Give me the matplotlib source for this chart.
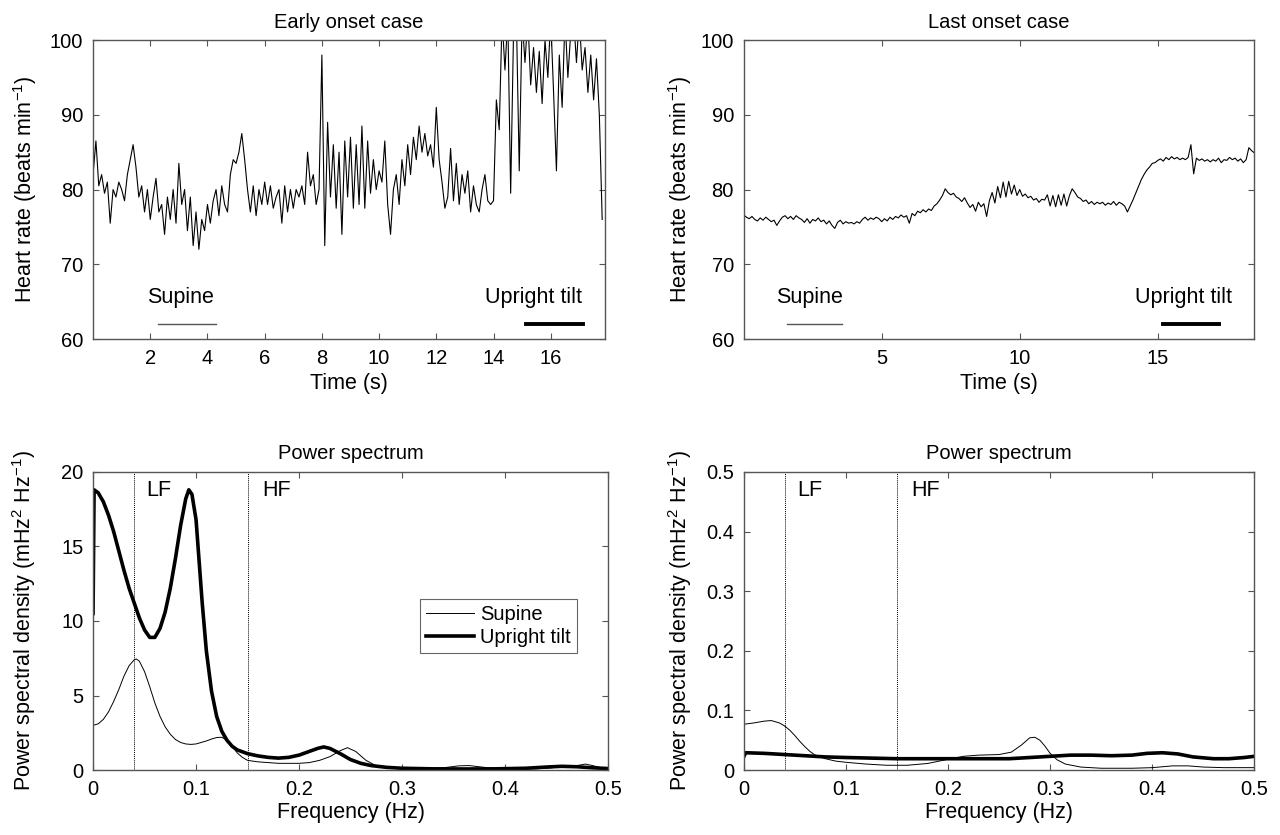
import numpy as np
import matplotlib
matplotlib.use('Agg')
import matplotlib.pyplot as plt
import matplotlib.transforms as mtransforms

plt.rcParams['font.family'] = ['Liberation Sans', 'DejaVu Sans']
plt.rcParams['mathtext.fontset'] = 'custom'
plt.rcParams['mathtext.rm'] = 'Liberation Sans'
plt.rcParams['mathtext.it'] = 'Liberation Sans:italic'
plt.rcParams['font.size'] = 14

# ---- heart rate, early onset case (0.1 s steps, 0 .. 17.8 s) ----
hr_early = [
    82, 86.5, 80.5, 82, 79.5, 81, 75.5, 80, 79, 81,
    80, 78.5, 82, 84, 86, 83, 79, 80.5, 77, 80,
    76, 79, 81.5, 77, 78, 74, 79, 76, 80, 75.5,
    83.5, 78, 80, 74.5, 79, 72.5, 77, 72, 76, 74.5,
    78, 75.5, 78.5, 80, 76.5, 80.5, 78, 77, 82, 84,
    83.5, 85, 87.5, 84, 80, 77, 80.5, 76.5, 80, 78,
    81, 78, 80.5, 77.5, 79, 80, 75.5, 80.5, 77, 80,
    77.5, 80, 79, 80.5, 78, 85, 80.5, 82, 78, 80,
    98, 72.5, 89, 79, 86, 77.5, 85, 74, 86.5, 79,
    87, 77.5, 86, 78, 88.5, 77.5, 86.5, 79.5, 84, 80,
    82.5, 81, 86.5, 78, 74, 80, 82, 78, 84, 80.5,
    86, 82, 87, 84, 88.5, 85, 87.5, 84.5, 86, 83,
    91, 84, 81, 77.5, 79, 85.5, 78.5, 83.5, 78, 82,
    79.5, 82.5, 77, 80.5, 78, 77, 80, 82, 78.5, 78,
    78.5, 92, 88, 103, 96, 103, 79.5, 101, 103, 82.5,
    103, 97, 103, 94, 99, 93, 98.5, 91.5, 100, 95,
    103, 93, 82.5, 98, 91, 103, 95, 101, 103, 97,
    103, 96, 99, 93, 98, 92, 97.5, 90, 76,
]
t_early = np.arange(len(hr_early)) * 0.1

# ---- heart rate, last onset case (0.1 s steps, 0 .. 18.5 s) ----
hr_last = [
    76.6, 76.3, 76.1, 76.4, 76.0, 75.8, 76.2, 75.9, 76.3, 76.0,
    75.7, 75.9, 75.2, 75.8, 76.3, 76.5, 76.1, 76.4, 76.0, 76.5,
    76.2, 76.0, 75.6, 76.1, 75.5, 76.0, 75.8, 76.2, 75.7, 75.9,
    75.4, 75.8, 75.2, 74.8, 75.6, 75.9, 75.4, 75.7, 75.5, 75.6,
    75.4, 75.7, 75.5, 76.0, 76.3, 75.9, 76.2, 76.0, 76.3, 76.1,
    75.7, 76.1, 75.8, 76.3, 76.0, 76.4, 76.2, 76.6, 76.3, 76.5,
    75.5, 76.8, 76.5, 77.1, 76.9, 77.3, 77.0, 77.4, 77.2, 77.8,
    78.1, 78.6, 79.2, 80.1, 79.6, 79.3, 79.5, 79.0, 78.8, 78.4,
    78.9, 78.2, 77.6, 78.0, 77.1, 78.3, 77.7, 78.1, 76.4, 78.5,
    79.6, 78.2, 80.4, 78.9, 81.0, 79.0, 81.1, 79.4, 80.6, 79.2,
    80.0, 79.1, 79.4, 78.9, 79.1, 78.6, 78.8, 78.3, 78.7, 78.6,
    79.3, 77.8, 79.2, 77.7, 79.3, 77.9, 79.4, 77.8, 79.2, 80.1,
    79.6, 79.0, 78.8, 78.4, 78.6, 78.1, 78.4, 78.0, 78.3, 78.1,
    78.3, 77.9, 78.2, 78.0, 78.4, 77.9, 78.3, 78.1, 77.8, 77.0,
    77.8, 78.6, 79.5, 80.4, 81.3, 82.0, 82.6, 83.0, 83.5, 83.6,
    83.9, 84.1, 83.8, 84.3, 84.0, 84.4, 84.1, 84.3, 84.0, 84.2,
    84.0, 84.3, 86.0, 82.1, 84.2, 83.9, 84.1, 83.8, 84.0, 83.7,
    84.0, 83.8, 84.2, 83.6, 84.0, 83.9, 84.3, 84.0, 84.2, 83.8,
    84.1, 83.6, 84.0, 85.6, 85.2, 84.9,
]
t_last = np.arange(len(hr_last)) * 0.1

# ---- power spectra, early onset case ----
f_early_sup = [0.000, 0.005, 0.010, 0.015, 0.020, 0.025, 0.030, 0.035, 0.040, 0.042,
               0.045, 0.050, 0.055, 0.060, 0.065, 0.070, 0.075, 0.080, 0.085, 0.090,
               0.095, 0.100, 0.105, 0.110, 0.115, 0.120, 0.125, 0.130, 0.135, 0.140,
               0.145, 0.150, 0.160, 0.180, 0.200, 0.210, 0.220, 0.230, 0.240, 0.247,
               0.255, 0.265, 0.275, 0.285, 0.300, 0.320, 0.340, 0.355, 0.365, 0.375,
               0.390, 0.410, 0.430, 0.445, 0.455, 0.465, 0.470, 0.478, 0.485, 0.495, 0.500]
p_early_sup = [3.0, 3.1, 3.4, 3.9, 4.6, 5.4, 6.3, 7.0, 7.4, 7.45,
               7.3, 6.6, 5.6, 4.5, 3.6, 2.9, 2.4, 2.05, 1.85, 1.75,
               1.72, 1.75, 1.85, 1.95, 2.08, 2.18, 2.2, 2.0, 1.6, 1.15,
               0.85, 0.65, 0.55, 0.45, 0.45, 0.5, 0.65, 0.9, 1.3, 1.5,
               1.25, 0.65, 0.28, 0.13, 0.08, 0.08, 0.15, 0.28, 0.3, 0.22,
               0.1, 0.05, 0.08, 0.15, 0.25, 0.22, 0.3, 0.4, 0.3, 0.12, 0.1]

f_early_up = [0.000, 0.001, 0.005, 0.010, 0.015, 0.020, 0.025, 0.030, 0.035, 0.040,
              0.045, 0.050, 0.055, 0.060, 0.065, 0.070, 0.075, 0.080, 0.085, 0.090,
              0.093, 0.096, 0.100, 0.103, 0.106, 0.110, 0.115, 0.120, 0.125, 0.130,
              0.135, 0.140, 0.150, 0.160, 0.170, 0.180, 0.190, 0.200, 0.210, 0.218,
              0.224, 0.230, 0.240, 0.250, 0.260, 0.270, 0.285, 0.300, 0.330, 0.360,
              0.390, 0.420, 0.440, 0.455, 0.470, 0.485, 0.500]
p_early_up = [10.5, 18.8, 18.6, 18.0, 17.1, 16.0, 14.7, 13.4, 12.2, 11.2,
              10.2, 9.4, 8.9, 8.9, 9.5, 10.6, 12.2, 14.2, 16.4, 18.2,
              18.8, 18.5, 16.8, 14.0, 11.2, 8.0, 5.3, 3.6, 2.6, 2.0,
              1.6, 1.35, 1.1, 0.95, 0.85, 0.8, 0.85, 1.0, 1.25, 1.45,
              1.55, 1.45, 1.1, 0.7, 0.45, 0.3, 0.18, 0.12, 0.08, 0.07,
              0.08, 0.12, 0.2, 0.25, 0.22, 0.15, 0.1]

# ---- power spectra, last onset case ----
f_last_sup = [0.000, 0.001, 0.010, 0.020, 0.027, 0.035, 0.040, 0.045, 0.050, 0.055,
              0.060, 0.065, 0.070, 0.080, 0.090, 0.100, 0.120, 0.140, 0.160, 0.180,
              0.200, 0.215, 0.230, 0.250, 0.262, 0.272, 0.280, 0.285, 0.290, 0.295,
              0.300, 0.307, 0.315, 0.330, 0.350, 0.380, 0.400, 0.420, 0.435, 0.450,
              0.470, 0.500]
p_last_sup = [0.065, 0.077, 0.079, 0.082, 0.083, 0.079, 0.074, 0.067, 0.058, 0.048,
              0.039, 0.031, 0.025, 0.019, 0.015, 0.013, 0.010, 0.008, 0.008, 0.011,
              0.018, 0.023, 0.025, 0.026, 0.030, 0.042, 0.054, 0.055, 0.050, 0.040,
              0.028, 0.017, 0.010, 0.005, 0.003, 0.003, 0.004, 0.007, 0.007, 0.005,
              0.004, 0.004]

f_last_up = [0.000, 0.002, 0.020, 0.040, 0.060, 0.080, 0.100, 0.125, 0.150, 0.175,
             0.200, 0.230, 0.260, 0.280, 0.300, 0.320, 0.340, 0.360, 0.380, 0.395,
             0.410, 0.425, 0.440, 0.460, 0.475, 0.490, 0.500]
p_last_up = [0.022, 0.029, 0.028, 0.026, 0.024, 0.022, 0.021, 0.020, 0.019, 0.019,
             0.019, 0.019, 0.019, 0.021, 0.023, 0.025, 0.025, 0.024, 0.025, 0.028,
             0.029, 0.027, 0.022, 0.019, 0.019, 0.021, 0.023]

# band limits and posture periods
lf_hf = [0.04, 0.15]
early_periods = {'Supine': (2.27, 4.3), 'Upright tilt': (15.14, 17.13)}
last_periods = {'Supine': (1.56, 3.55), 'Upright tilt': (15.2, 17.2)}

spine_col = '#555555'
fs_tick = 14.5
fs_lab = 15.5


def style_axes(ax, lab_x):
    for s in ax.spines.values():
        s.set_color(spine_col)
        s.set_linewidth(1.0)
    ax.tick_params(direction='in', length=4, width=0.8, color=spine_col,
                   top=True, right=True, labelsize=fs_tick, pad=7)
    ax.yaxis.set_label_coords(lab_x, 0.5)


fig = plt.figure(figsize=(12.8, 8.35), dpi=100)
ax1 = fig.add_axes([0.0727, 0.594, 0.4, 0.358])
ax2 = fig.add_axes([0.581, 0.594, 0.399, 0.358])
ax3 = fig.add_axes([0.0727, 0.0778, 0.4023, 0.357])
ax4 = fig.add_axes([0.581, 0.0778, 0.399, 0.357])

# top panels
for ax, t, hr, title, periods, xlim, xticks, tx, lab_x in [
        (ax1, t_early, hr_early, 'Early onset case', early_periods, 17.9,
         [2, 4, 6, 8, 10, 12, 14, 16], (3.06, 15.4), -0.106),
        (ax2, t_last, hr_last, 'Last onset case', last_periods, 18.5,
         [5, 10, 15], (2.39, 15.94), -0.098)]:
    ax.plot(t, hr, color='black', lw=0.8)
    sx0, sx1 = periods['Supine']
    ux0, ux1 = periods['Upright tilt']
    ax.plot([sx0, sx1], [62, 62], color='#555555', lw=1.0)
    ax.plot([ux0, ux1], [62, 62], color='black', lw=2.8)
    ax.text(tx[0], 65.6, 'Supine', ha='center', va='center', fontsize=fs_lab)
    ax.text(tx[1], 65.6, 'Upright tilt', ha='center', va='center', fontsize=fs_lab)
    ax.set_xlim(0, xlim)
    ax.set_ylim(60, 100)
    ax.set_xticks(xticks)
    ax.set_yticks([60, 70, 80, 90, 100])
    ax.set_title(title, fontsize=fs_tick, pad=9)
    ax.set_xlabel('Time (s)', fontsize=fs_lab)
    ax.set_ylabel(r'Heart rate (beats min$^{\mathregular{-1}}$)', fontsize=fs_lab)
    style_axes(ax, lab_x)

# bottom panels
for ax, fs, ps, fu, pu, ymax, yticks, ylabels, lab_x in [
        (ax3, f_early_sup, p_early_sup, f_early_up, p_early_up, 20,
         [0, 5, 10, 15, 20], ['0', '5', '10', '15', '20'], -0.106),
        (ax4, f_last_sup, p_last_sup, f_last_up, p_last_up, 0.5,
         [0, 0.1, 0.2, 0.3, 0.4, 0.5], ['0', '0.1', '0.2', '0.3', '0.4', '0.5'], -0.098)]:
    ax.plot(fs, ps, color='black', lw=0.7, label='Supine')
    ax.plot(fu, pu, color='black', lw=2.6, label='Upright tilt')
    for x in lf_hf:
        ax.axvline(x, color='black', lw=0.7, linestyle=(0, (1, 1)))
    trans = mtransforms.blended_transform_factory(ax.transData, ax.transAxes)
    ax.text(0.052, 0.938, 'LF', transform=trans, ha='left', va='center', fontsize=fs_lab)
    ax.text(0.164, 0.938, 'HF', transform=trans, ha='left', va='center', fontsize=fs_lab)
    ax.set_xlim(0, 0.5)
    ax.set_ylim(0, ymax)
    ax.set_xticks([0, 0.1, 0.2, 0.3, 0.4, 0.5])
    ax.set_xticklabels(['0', '0.1', '0.2', '0.3', '0.4', '0.5'])
    ax.set_yticks(yticks)
    ax.set_yticklabels(ylabels)
    ax.set_title('Power spectrum', fontsize=fs_tick, pad=9)
    ax.set_xlabel('Frequency (Hz)', fontsize=fs_lab, labelpad=2)
    ax.set_ylabel(r'Power spectral density (mHz$^{\mathregular{2}}$ Hz$^{\mathregular{-1}}$)', fontsize=fs_lab)
    style_axes(ax, lab_x)

leg = ax3.legend(loc='upper right', bbox_to_anchor=(0.94, 0.574), fontsize=fs_tick,
                 frameon=True, fancybox=False, edgecolor='#666666', framealpha=1,
                 handlelength=2.4, borderpad=0.3, labelspacing=0.2, handletextpad=0.3,
                 borderaxespad=0)
leg.get_frame().set_linewidth(0.8)

fig.savefig('out.png', dpi=100)
